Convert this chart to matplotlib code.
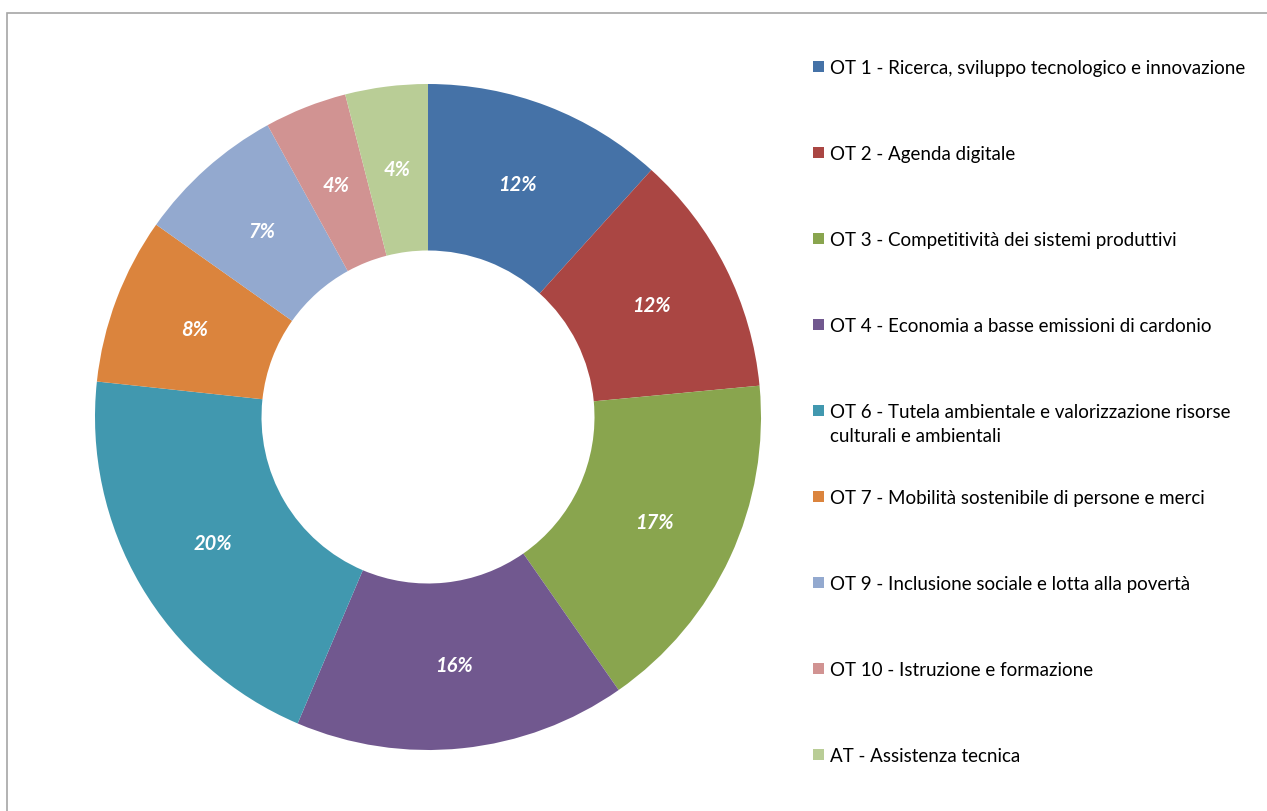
import matplotlib.pyplot as plt
from matplotlib.patches import Rectangle

plt.rcParams['font.family'] = ['Lato', 'DejaVu Sans']

labels = ['OT 1 - Ricerca, sviluppo tecnologico e innovazione',
          'OT 2 - Agenda digitale',
          'OT 3 - Competitività dei sistemi produttivi',
          'OT 4 - Economia a basse emissioni di cardonio',
          'OT 6 - Tutela ambientale e valorizzazione risorse\nculturali e ambientali',
          'OT 7 - Mobilità sostenibile di persone e merci',
          'OT 9 - Inclusione sociale e lotta alla povertà',
          'OT 10 - Istruzione e formazione',
          'AT - Assistenza tecnica']
values = [11.7, 11.8, 16.8, 16.1, 20.3, 8.1, 7.2, 4.0, 4.0]
colors = ['#4572A7', '#AA4643', '#89A54E', '#71588F', '#4198AF',
          '#DB843D', '#93A9CF', '#D19392', '#B9CD96']

W, H = 1267, 812
fig = plt.figure(figsize=(W / 100, H / 100), dpi=100)

# frame around the chart area
fig.patches.append(Rectangle((7 / W, -0.05), 1.2, 1 - 14 / H + 0.05,
                             transform=fig.transFigure, fill=False,
                             edgecolor='#A6A6A6', linewidth=1.2))

cx, cy, r = 428, 418, 333
ax = fig.add_axes([(cx - r) / W, (H - cy - r) / H, 2 * r / W, 2 * r / H])
wedges, texts = ax.pie(values, colors=colors, startangle=90, counterclock=False,
                       radius=1, wedgeprops=dict(width=0.5, linewidth=0),
                       labels=[f'{round(v)}%' for v in values], labeldistance=0.75)
for t in texts:
    t.set_color('white')
    t.set_fontweight('bold')
    t.set_fontstyle('italic')
    t.set_fontsize(14.5)
    t.set_ha('center')
    t.set_va('center')
ax.set_xlim(-1, 1)
ax.set_ylim(-1, 1)
ax.set_aspect('equal')

# legend entries, aligned on first line
y0, step = 68, 86
for i, (lab, col) in enumerate(zip(labels, colors)):
    y = y0 + i * step
    fig.patches.append(Rectangle((813 / W, 1 - (y + 5) / H), 11 / W, 11 / H,
                                 transform=fig.transFigure, facecolor=col,
                                 edgecolor='none'))
    for j, line in enumerate(lab.split('\n')):
        fig.text(830 / W, 1 - (y + 6 + j * 24) / H, line, fontsize=13.5,
                 va='baseline', ha='left', color='black')

fig.savefig('out.png', dpi=100)
